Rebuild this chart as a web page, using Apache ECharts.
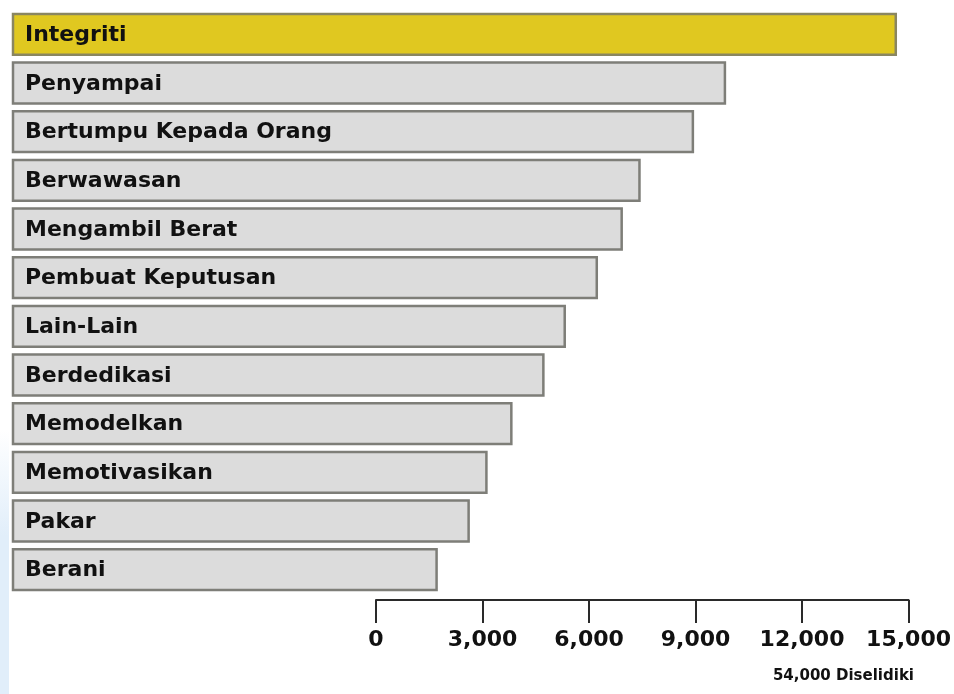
<!DOCTYPE html>
<html>
<head>
<meta charset="utf-8">
<script src="https://cdn.jsdelivr.net/npm/echarts@6/dist/echarts.min.js"></script>
<style>
  html, body { margin: 0; padding: 0; background: #ffffff; }
  #chart { width: 954px; height: 694px; }
</style>
</head>
<body>
<div id="chart"></div>
<script>
// Qualities named by respondents, top to bottom
const categories = [
  'Integriti', 'Penyampai', 'Bertumpu Kepada Orang', 'Berwawasan',
  'Mengambil Berat', 'Pembuat Keputusan', 'Lain-Lain', 'Berdedikasi',
  'Memodelkan', 'Memotivasikan', 'Pakar', 'Berani'
];
// Number of respondents per quality
const counts = [14600, 9800, 8900, 7400, 6900, 6200, 5300, 4700, 3800, 3100, 2600, 1700];
// Scale ticks
const tickValues = [0, 3000, 6000, 9000, 12000, 15000];
const footnote = '54,000 Diselidiki';

const FONT = '"DejaVu Sans", "Noto Sans", sans-serif';
// The bar panel extends left of zero so the labels sit inside each bar
const BAR_BASE = -10200;
const AXIS_MAX = tickValues[tickValues.length - 1];

const chart = echarts.init(document.getElementById('chart'), null, { renderer: 'canvas' });

chart.setOption({
  backgroundColor: '#ffffff',
  animation: false,
  grid: [
    { left: 13, right: 44, top: 10, bottom: 100 },
    { left: 376, right: 44, top: 560, bottom: 94 }
  ],
  xAxis: [
    { gridIndex: 0, type: 'value', min: BAR_BASE, max: AXIS_MAX, show: false },
    {
      gridIndex: 1, type: 'value', min: tickValues[0], max: AXIS_MAX,
      interval: tickValues[1] - tickValues[0],
      position: 'bottom',
      axisLine: { show: true, lineStyle: { color: '#2a2a2a', width: 2 } },
      axisTick: { show: true, inside: false, length: 23, lineStyle: { color: '#2a2a2a', width: 2 } },
      splitLine: { show: false },
      axisLabel: {
        margin: 29, fontFamily: FONT, fontWeight: 'bold', fontSize: 22, color: '#111111',
        showMinLabel: true, showMaxLabel: true,
        formatter: v => v.toLocaleString('en-US')
      }
    }
  ],
  yAxis: [
    { gridIndex: 0, type: 'category', data: categories, inverse: true, show: false },
    { gridIndex: 1, type: 'value', show: false }
  ],
  series: [
    {
      type: 'custom',
      xAxisIndex: 0,
      yAxisIndex: 0,
      data: counts.map((v, i) => [v, i]),
      renderItem: function (params, api) {
        const idx = api.value(1);
        const start = api.coord([BAR_BASE, idx]);
        const end = api.coord([api.value(0), idx]);
        const h = api.size([0, 1])[1] * 0.84;
        const first = params.dataIndex === 0;
        return {
          type: 'group',
          children: [
            {
              type: 'rect',
              shape: { x: start[0], y: start[1] - h / 2, width: end[0] - start[0], height: h },
              style: {
                fill: first ? '#e0c820' : '#dcdcdc',
                stroke: first ? '#8a8660' : '#7e7e78',
                lineWidth: 2.5
              }
            },
            {
              type: 'text',
              x: start[0] + 12,
              y: start[1] + 1,
              style: {
                text: categories[params.dataIndex],
                fill: '#111111',
                font: 'bold 22px ' + FONT,
                verticalAlign: 'middle',
                align: 'left'
              }
            }
          ]
        };
      }
    }
  ],
  graphic: [
    {
      // faint blue edge along the lower left margin
      type: 'rect',
      left: 0,
      top: 430,
      z: -1,
      shape: { width: 9, height: 264 },
      style: {
        fill: new echarts.graphic.LinearGradient(0, 0, 0, 1, [
          { offset: 0, color: 'rgba(225,238,250,0)' },
          { offset: 0.4, color: 'rgba(225,238,250,1)' },
          { offset: 1, color: 'rgba(225,238,250,1)' }
        ])
      }
    },
    {
      type: 'text',
      right: 40,
      top: 669,
      style: {
        text: footnote,
        fill: '#111111',
        font: 'bold 15px ' + FONT
      }
    }
  ]
});
</script>
</body>
</html>
